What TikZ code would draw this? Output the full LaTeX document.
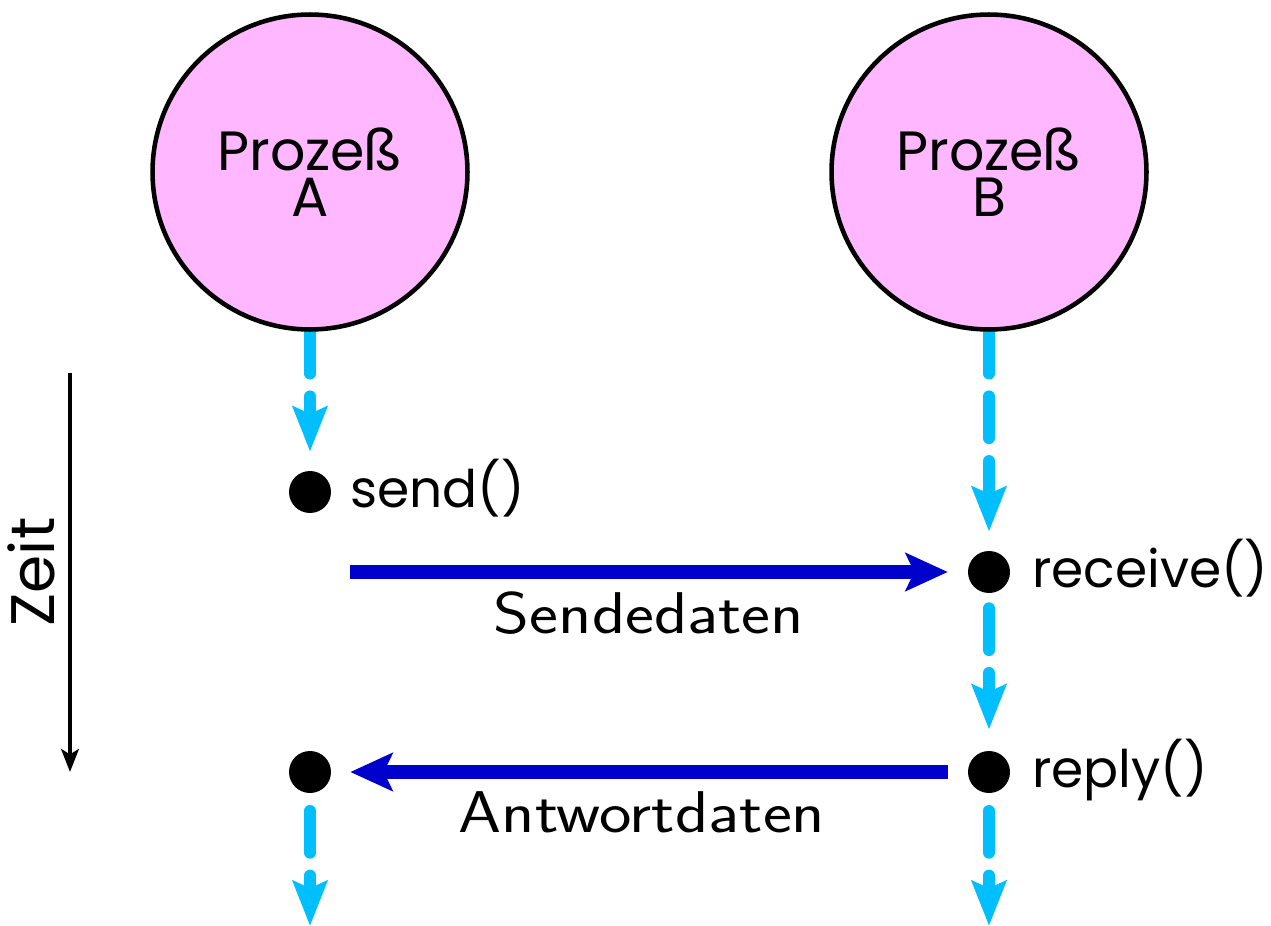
\documentclass[tikz,border=0pt]{standalone}
\usepackage{fontspec}
\newfontfamily\geo{Poppins}
\newfontfamily\lmsans{Latin Modern Sans}[FakeStretch=1.17]
\usetikzlibrary{arrows.meta}
\pgfdeclarelayer{back}
\pgfsetlayers{back,main}
\definecolor{procpink}{RGB}{255,184,255}
\definecolor{flowcyan}{RGB}{0,191,255}
\definecolor{msgblue}{RGB}{0,0,204}
\begin{document}
\begin{tikzpicture}[x=0.02cm,y=-0.02cm,
  proc/.style={circle, draw=black, line width=2.6pt, fill=procpink,
    minimum size=6.3cm, inner sep=0pt, align=center,
    font=\geo\fontsize{31.5pt}{26.5pt}\selectfont},
  dot/.style={circle, fill=black, inner sep=0pt, minimum size=0.84cm},
  flow/.style={flowcyan, line width=6.8pt, line cap=round,
    dash pattern=on 23.8pt off 13pt,
    -{Stealth[length=25.5pt,width=19.3pt,inset=4pt]}},
  msg/.style={msgblue, line width=8.5pt,
    -{Stealth[length=24pt,width=21.5pt,inset=5pt]}},
  lbl/.style={font=\geo\fontsize{29.5pt}{32pt}\selectfont, inner sep=0pt},
  datalbl/.style={font=\lmsans\fontsize{33.5pt}{35pt}\selectfont, inner sep=0pt},
  timeline/.style={black, line width=2.4pt,
    -{Stealth[length=13pt,width=10pt,inset=3pt]}}]
\useasboundingbox (0,0) rectangle (1271,926);

% processes
\node[proc] (A) at (310,172) {Prozeß\\A};
\node[proc] (B) at (989,172) {Prozeß\\B};

% events
\node[dot] (sA) at (310,492) {};
\node[dot] (rB) at (989,572) {};
\node[dot] (pB) at (989,772) {};
\node[dot] (pA) at (310,772) {};

\node[lbl, anchor=base west] (tsend) at (350,507) {send()};
\node[lbl, anchor=base west] (trecv) at (1032,587) {receive()};
\node[lbl, anchor=base west] (trepl) at (1032,787) {reply()};

\coordinate (s0) at (350,572);
\coordinate (endA) at (310,926);
\coordinate (endB) at (989,926);
\coordinate (z0) at (70,373);
\coordinate (z1) at (70,772);

% time axis
\draw[timeline] (z0) -- (z1);
\node[lbl, font=\geo\fontsize{35pt}{36pt}\selectfont, rotate=90] (tzeit) at (31,572) {Zeit};

% control flow of each process
\begin{pgfonlayer}{back}
\draw[flow, shorten >=10.8pt] (A) -- (sA);
\draw[flow, shorten >=10.8pt] (B) -- (rB);
\draw[flow, shorten <=8.5pt, shorten >=12pt] (rB) -- (pB);
\draw[flow, shorten <=10pt] (pB) -- (endB);
\draw[flow, shorten <=10pt] (pA) -- (endA);
\end{pgfonlayer}

% messages
\draw[msg, shorten >=11.3pt] (s0) -- (rB);
\draw[msg, shorten <=11.3pt, shorten >=10.8pt] (pB) -- (pA);
\node[datalbl, anchor=base] (tsd) at (649,633) {Sendedaten};
\node[datalbl, anchor=base] (tad) at (642,832) {Antwortdaten};
\end{tikzpicture}
\end{document}
